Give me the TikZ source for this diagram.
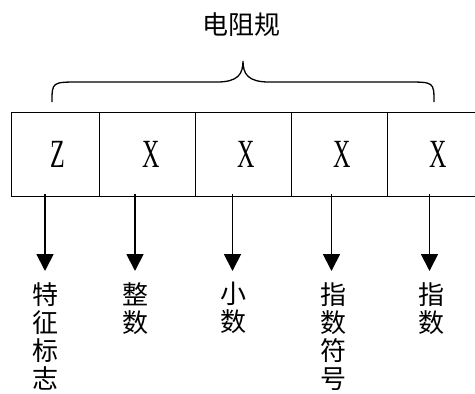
\documentclass[tikz,border=0pt]{standalone}
\usepackage{fontspec}
\setmainfont{Liberation Serif}
\newfontfamily\cjk{Noto Sans CJK SC}
\usetikzlibrary{arrows.meta}
\tikzset{
  cell/.style={draw, line width=1pt, minimum height=84pt, inner sep=0pt, anchor=south west},
  letter/.style={font=\fontsize{40}{40}\selectfont, inner sep=0pt},
  cjklabel/.style={font=\cjk\fontsize{26}{28.3}\selectfont, align=center, inner sep=0pt, anchor=north},
  ptr/.style={line width=1.8pt, -{Triangle[length=17pt,width=17pt]}},
  brace/.style={line width=1.3pt}
}
\newcommand{\narrow}[1]{\scalebox{0.6}[1]{#1}}
\begin{document}
\begin{tikzpicture}[x=1pt,y=-1pt]
\useasboundingbox (0,0) rectangle (475,394);
% title
\node[font=\cjk\fontsize{26}{28}\selectfont, inner sep=0pt] (title) at (241,25) {电阻规};
% brace
\coordinate (bl) at (52,102);
\coordinate (btip) at (243,61);
\coordinate (br) at (434,102);
\draw[brace] (bl) .. controls (52,82) .. (80,82) -- (217,82)
  .. controls (238,82) and (243,74) .. (btip)
  .. controls (243,74) and (248,82) .. (269,82) -- (406,82)
  .. controls (434,82) .. (br);
% cells
\node[cell, minimum width=88pt] (c1) at (10.5,196.5) {};
\node[cell, minimum width=96pt] (c2) at (98.5,196.5) {};
\node[cell, minimum width=96pt] (c3) at (194.5,196.5) {};
\node[cell, minimum width=96pt] (c4) at (290.5,196.5) {};
\node[cell, minimum width=100pt] (c5) at (386.5,196.5) {};
% letters
\node[letter] (l1) at (58,154) {\narrow{Z}};
\node[letter] (l2) at (151,154) {\narrow{X}};
\node[letter] (l3) at (246,154) {\narrow{X}};
\node[letter] (l4) at (342,154) {\narrow{X}};
\node[letter] (l5) at (438,154) {\narrow{X}};
% arrow ends
\coordinate (s1) at (45,194);  \coordinate (e1) at (45,271);
\coordinate (s2) at (135,194); \coordinate (e2) at (135,271);
\coordinate (s3) at (232.5,194); \coordinate (e3) at (232.5,271);
\coordinate (s4) at (331.5,194); \coordinate (e4) at (331.5,271);
\coordinate (s5) at (429.5,194); \coordinate (e5) at (429.5,271);
\foreach \i in {1,...,5} { \draw[ptr] (s\i) -- (e\i); }
% labels
\node[cjklabel] (d1) at (46,282) {特\\征\\标\\志};
\node[cjklabel] (d2) at (135,282) {整\\数};
\node[cjklabel] (d3) at (233,282) {小\\数};
\node[cjklabel] (d4) at (333,282) {指\\数\\符\\号};
\node[cjklabel] (d5) at (431,282) {指\\数};
\end{tikzpicture}
\end{document}
